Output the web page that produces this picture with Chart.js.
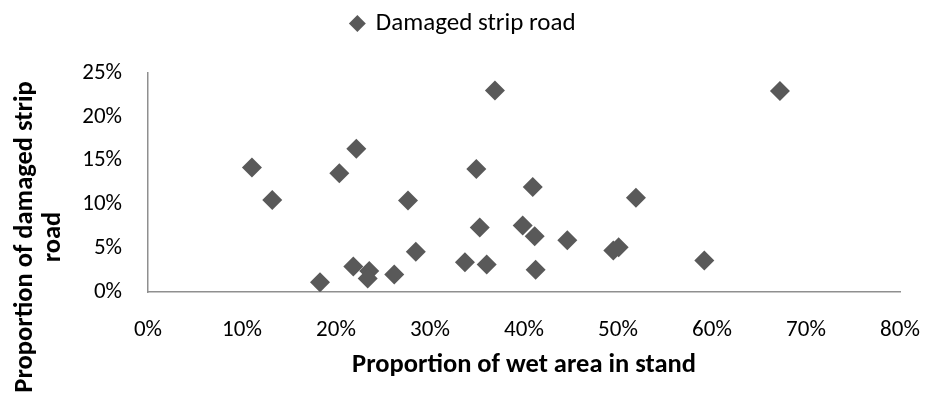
<!DOCTYPE html>
<html><head><meta charset="utf-8">
<script src="https://cdn.jsdelivr.net/npm/chart.js@4/dist/chart.umd.min.js"></script>
<style>html,body{margin:0;padding:0;background:#fff}</style>
</head><body>
<canvas id="c" width="927" height="394"></canvas>
<script>
const seriesName = 'Damaged strip road';
const xTitle = 'Proportion of wet area in stand';
const yTitleLines = ['Proportion of damaged strip', 'road'];
const wetArea = [11.06, 13.22, 18.3, 20.35, 21.84, 22.16, 23.54, 23.37, 26.2, 27.66, 28.49, 33.72, 34.93, 35.29, 36.03, 36.91, 39.86, 40.93, 41.14, 41.24, 44.61, 49.5, 50.07, 51.91, 59.18, 67.23];
const damagedRoad = [14.2, 10.5, 1.1, 13.55, 2.9, 16.35, 2.4, 1.55, 2.0, 10.45, 4.6, 3.4, 14.05, 7.35, 3.15, 23.0, 7.6, 12.0, 6.35, 2.55, 5.9, 4.75, 5.1, 10.75, 3.6, 22.95];
const xTicks = [0, 10, 20, 30, 40, 50, 60, 70, 80];
const yTicks = [0, 5, 10, 15, 20, 25];

const FONT = 'Carlito, Lato, "DejaVu Sans", sans-serif';
const points = wetArea.map((x, i) => ({x, y: damagedRoad[i]}));

const yTitlePlugin = {
  id: 'yTitle',
  afterDraw(chart) {
    const ctx = chart.ctx;
    ctx.save();
    ctx.font = 'bold 26.5px ' + FONT;
    ctx.fillStyle = '#000';
    ctx.textAlign = 'center';
    ctx.textBaseline = 'alphabetic';
    ctx.translate(32, 237);
    ctx.rotate(-Math.PI / 2);
    yTitleLines.forEach((t, i) => ctx.fillText(t, 0, i * 28));
    ctx.restore();
  }
};

new Chart(document.getElementById('c'), {
  type: 'scatter',
  data: {
    datasets: [{
      label: seriesName,
      data: points,
      pointStyle: 'rectRot',
      pointRadius: 10,
      pointHoverRadius: 10,
      backgroundColor: '#595959',
      borderColor: '#595959',
      borderWidth: 0
    }]
  },
  options: {
    responsive: false,
    devicePixelRatio: 1,
    animation: false,
    layout: {padding: 0},
    plugins: {
      tooltip: {enabled: false},
      legend: {
        display: true,
        position: 'top',
        labels: {
          usePointStyle: true,
          boxWidth: 12,
          boxHeight: 12,
          padding: 11,
          color: '#000',
          font: {family: FONT, size: 25}
        }
      }
    },
    scales: {
      x: {
        type: 'linear',
        min: 0, max: 80,
        afterBuildTicks: s => { s.ticks = xTicks.map(v => ({value: v})); },
        grid: {display: false, drawTicks: false},
        border: {display: true, color: '#8f8f8f', width: 1.5},
        ticks: {color: '#000', padding: 24, font: {family: FONT, size: 23}, callback: v => v + '%'},
        title: {display: true, text: xTitle, color: '#000', font: {family: FONT, size: 26.5, weight: 'bold'}, padding: {top: 0, bottom: 13}},
        afterFit: s => { s.height = 102; s.paddingLeft = 0; s.paddingRight = 0; }
      },
      x2: {
        type: 'linear',
        position: 'top',
        display: true,
        grid: {display: false, drawTicks: false},
        border: {display: false},
        ticks: {display: false},
        afterFit: s => { s.height = 27; s.paddingLeft = 0; s.paddingRight = 0; }
      },
      y: {
        type: 'linear',
        min: 0, max: 25,
        afterBuildTicks: s => { s.ticks = yTicks.map(v => ({value: v})); },
        grid: {display: false, drawTicks: false},
        border: {display: true, color: '#8f8f8f', width: 1.5},
        ticks: {color: '#000', padding: 26, font: {family: FONT, size: 23}, callback: v => v + '%'},
        afterFit: s => { s.width = 148; s.paddingTop = 0; s.paddingBottom = 0; }
      },
      y2: {
        type: 'linear',
        position: 'right',
        display: true,
        grid: {display: false, drawTicks: false},
        border: {display: false},
        ticks: {display: false},
        afterFit: s => { s.width = 27; s.paddingTop = 0; s.paddingBottom = 0; }
      }
    }
  },
  plugins: [yTitlePlugin]
});
</script>
</body></html>
